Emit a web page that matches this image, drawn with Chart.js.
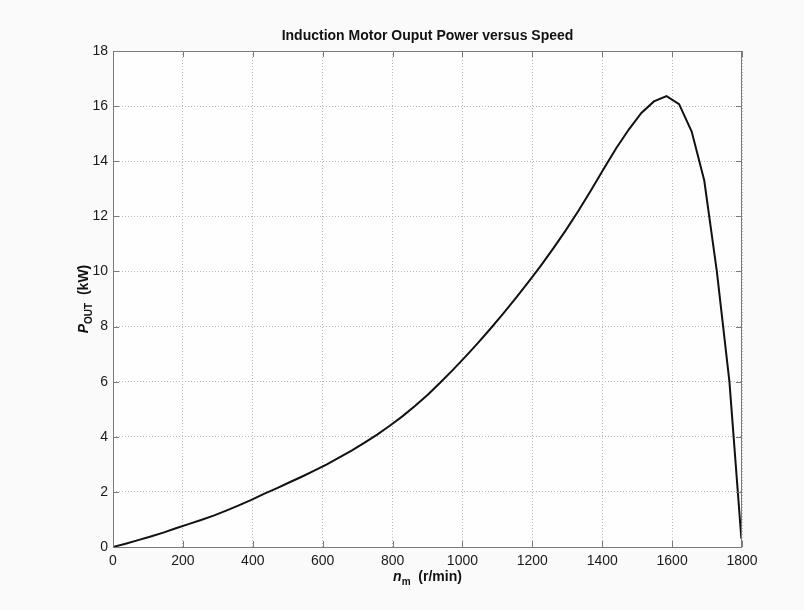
<!DOCTYPE html>
<html>
<head>
<meta charset="utf-8">
<script src="https://cdn.jsdelivr.net/npm/chart.js@4.4.1/dist/chart.umd.min.js"></script>
<style>
  html, body { margin: 0; padding: 0; background: #fafafa; }
  #wrap { width: 804px; height: 610px; }
</style>
</head>
<body>
<div id="wrap"><canvas id="chart" width="804" height="610"></canvas></div>
<script>
// speed points (r/min), slip steps of 1/50 of sync speed
const speeds = [
  0, 36, 72, 108, 144, 180, 216, 252, 288, 324,
  360, 396, 432, 468, 504, 540, 576, 612, 648, 684,
  720, 756, 792, 828, 864, 900, 936, 972, 1008, 1044,
  1080, 1116, 1152, 1188, 1224, 1260, 1296, 1332, 1368, 1404,
  1440, 1476, 1512, 1548, 1584, 1620, 1656, 1692, 1728, 1764,
  1798.2
];
// output power (kW)
const powerKW = [
  0, 0.12, 0.25, 0.38, 0.52, 0.68, 0.83, 0.98, 1.14, 1.32,
  1.51, 1.71, 1.93, 2.13, 2.34, 2.55, 2.77, 3.00, 3.25, 3.51,
  3.79, 4.08, 4.40, 4.74, 5.12, 5.52, 5.96, 6.42, 6.90, 7.40,
  7.92, 8.46, 9.02, 9.60, 10.20, 10.84, 11.50, 12.20, 12.95, 13.72,
  14.47, 15.15, 15.75, 16.17, 16.36, 16.07, 15.08, 13.30, 10.00, 6.00,
  0.30
];
const xTicks = [0, 200, 400, 600, 800, 1000, 1200, 1400, 1600, 1800];
const yTicks = [0, 2, 4, 6, 8, 10, 12, 14, 16, 18];
const titleText = 'Induction Motor Ouput Power versus Speed';

const FONT = '"Liberation Sans", Arial, Helvetica, sans-serif';
const AXIS_GRAY = '#7a7a7a';

const points = speeds.map((s, i) => ({ x: s, y: powerKW[i] }));

// MATLAB-ish frame: plot background, box on all sides, inward ticks, title + axis labels
const matlabFrame = {
  id: 'matlabFrame',
  beforeDraw(chart) {
    const { ctx, chartArea: a } = chart;
    ctx.save();
    ctx.fillStyle = '#fefefe';
    ctx.fillRect(a.left, a.top, a.right - a.left, a.bottom - a.top);
    ctx.restore();
  },
  afterDraw(chart) {
    const { ctx, chartArea: a, scales } = chart;
    const tl = 6;
    ctx.save();
    ctx.strokeStyle = AXIS_GRAY;
    ctx.lineWidth = 1;
    ctx.strokeRect(a.left + 0.5, a.top + 0.5, a.right - a.left - 1, a.bottom - a.top);
    ctx.beginPath();
    xTicks.forEach(v => {
      const px = Math.round(scales.x.getPixelForValue(v)) + 0.5;
      ctx.moveTo(px, a.bottom); ctx.lineTo(px, a.bottom - tl);
      ctx.moveTo(px, a.top); ctx.lineTo(px, a.top + tl);
    });
    yTicks.forEach(v => {
      const py = Math.round(scales.y.getPixelForValue(v)) + 0.5;
      ctx.moveTo(a.left, py); ctx.lineTo(a.left + tl, py);
      ctx.moveTo(a.right, py); ctx.lineTo(a.right - tl, py);
    });
    ctx.stroke();

    const cx = (a.left + a.right) / 2;
    ctx.fillStyle = '#111';
    ctx.textBaseline = 'alphabetic';

    // title
    ctx.font = 'bold 14px ' + FONT;
    ctx.textAlign = 'center';
    ctx.fillText(titleText, cx, 40);
    ctx.textAlign = 'left';

    const main = 'bold 14px ' + FONT;
    const ital = 'italic bold 14px ' + FONT;
    const sub = 'bold 10px ' + FONT;
    const parts = (base) => [
      { t: base[0], f: ital, dy: 0 },
      { t: base[1], f: sub, dy: 4 },
      { t: base[2], f: main, dy: 0 }
    ];
    const drawParts = (ps, x0, by) => {
      let w = 0;
      ps.forEach(p => { ctx.font = p.f; w += ctx.measureText(p.t).width; });
      let x = x0 - w / 2;
      ps.forEach(p => {
        ctx.font = p.f;
        ctx.fillText(p.t, x, by + p.dy);
        x += ctx.measureText(p.t).width;
      });
    };
    // x label: n_m  (r/min)
    drawParts(parts(['n', 'm', '  (r/min)']), cx, 581);

    // y label: P_OUT  (kW), rotated
    ctx.save();
    ctx.translate(88, (a.top + a.bottom) / 2);
    ctx.rotate(-Math.PI / 2);
    drawParts(parts(['P', 'OUT', '  (kW)']), 0, 0);
    ctx.restore();
    ctx.restore();
  }
};

const tickFont = { family: FONT, size: 14 };

new Chart(document.getElementById('chart'), {
  type: 'line',
  data: {
    datasets: [{
      data: points,
      borderColor: '#111',
      borderWidth: 2,
      pointRadius: 0,
      tension: 0,
      fill: false
    }]
  },
  options: {
    responsive: false,
    animation: false,
    devicePixelRatio: 1,
    layout: { padding: { left: 0, right: 62, top: 51, bottom: 0 } },
    plugins: {
      legend: { display: false },
      tooltip: { enabled: false },
      title: { display: false }
    },
    scales: {
      x: {
        type: 'linear',
        min: 0, max: 1800,
        afterBuildTicks(scale) { scale.ticks = xTicks.map(v => ({ value: v })); },
        afterFit(scale) { scale.height = 63; },
        ticks: { color: '#1a1a1a', font: tickFont, padding: 6, maxRotation: 0, callback: v => String(v) },
        grid: { color: '#b8b8b8', lineWidth: 1, drawTicks: false },
        border: { display: false, dash: [1, 2] }
      },
      y: {
        type: 'linear',
        min: 0, max: 18,
        afterBuildTicks(scale) { scale.ticks = yTicks.map(v => ({ value: v })); },
        afterFit(scale) { scale.width = 113; },
        ticks: { color: '#1a1a1a', font: tickFont, padding: 5, callback: v => String(v) },
        grid: { color: '#b8b8b8', lineWidth: 1, drawTicks: false },
        border: { display: false, dash: [1, 2] }
      }
    }
  },
  plugins: [matlabFrame]
});
</script>
</body>
</html>
